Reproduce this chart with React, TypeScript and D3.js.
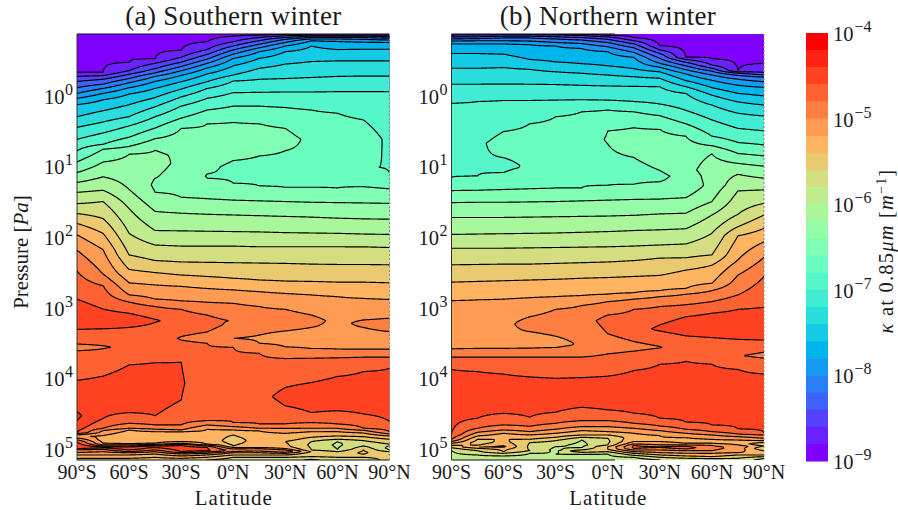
import React from 'react';
import * as d3 from 'd3';

// A profile is a list of [log10 pressure in Pa, level number]. Level n means
// log10(kappa) = -9 + n / 5, read off where the contour lines cross each latitude.
type Profile = [number, number][];

const latitudes = [-90, -75, -60, -45, -30, -15, 0, 15, 30, 45, 60, 75, 90];
const latTicks = [-90, -60, -30, 0, 30, 60, 90];
const latLabels = ['90°S', '60°S', '30°S', '0°N', '30°N', '60°N', '90°N'];
const pressureExponents = [0, 1, 2, 3, 4, 5];
const kappaExponents = [-4, -5, -6, -7, -8, -9];
const pressureDomain = [-0.87, 5.156];
const bandCount = 25;

const south90S: Profile = [[-0.87,0.6],[-0.33,1],[-0.27,2],[-0.2,3],[-0.11,4],[-0.03,5],[0.04,6],[0.13,7],[0.3,8],[0.45,9],[0.62,10],[0.78,11],[0.94,12],[1.09,13],[1.23,14],[1.37,15],[1.53,16],[1.67,17],[1.81,18],[1.97,19],[2.19,20],[2.48,21],[2.88,22],[3.08,22.6],[3.31,22],[3.515,21],[3.56,20.7],[3.61,21],[4.03,22],[4.47,23],[4.53,23.2],[4.6,23],[4.77,22],[4.78,21],[4.8,20],[4.82,19],[4.845,20],[4.87,21],[4.9,22],[4.96,23],[4.995,22],[5.01,21],[5.05,20],[5.085,19],[5.13,18],[5.156,18]];
const south75S: Profile = [[-0.87,0.6],[-0.33,1],[-0.28,2],[-0.23,3],[-0.16,4],[-0.1,5],[-0.03,6],[0.06,7],[0.215,8],[0.375,9],[0.53,10],[0.69,11],[0.76,12],[0.94,13],[1.15,14],[1.34,15],[1.5,16],[1.74,17],[1.95,18],[2.18,19],[2.525,20],[2.69,21],[3.02,22],[3.16,22.6],[3.3,22],[3.54,21],[3.56,20.85],[3.58,21],[3.97,22],[4.28,22.6],[4.57,22],[4.708,21],[4.74,20],[4.81,19],[4.864,18.5],[4.92,19],[4.943,20],[4.958,21],[4.976,22.5],[5.005,21],[5.038,20],[5.085,19],[5.132,18],[5.156,17.5]];
const south60S: Profile = [[-0.87,0.6],[-0.47,1],[-0.35,2],[-0.3,3],[-0.24,4],[-0.18,5],[-0.11,6],[-0.02,7],[0.13,8],[0.3,9],[0.43,10],[0.59,11],[0.72,12],[0.83,13],[1.27,13.85],[1.33,14],[1.6,15],[1.95,16],[2.255,17],[2.46,18],[2.65,19],[2.82,20],[2.92,21],[3.08,22],[3.185,22.6],[3.28,22],[3.55,21.3],[3.81,22],[4.165,22.7],[4.486,22],[4.637,21],[4.708,20],[4.731,19],[4.826,18],[4.873,18.3],[4.925,19],[4.943,20],[4.958,21],[4.972,22],[4.995,22.6],[5.014,22],[5.038,21],[5.052,20],[5.085,19],[5.132,18],[5.156,17.5]];
const south45S: Profile = [[-0.87,0.6],[-0.52,1],[-0.455,2],[-0.38,3],[-0.32,4],[-0.27,5],[-0.2,6],[-0.1,7],[0.03,8],[0.16,9],[0.3,10],[0.46,11],[0.61,12],[0.775,13],[0.96,13.4],[1.17,13],[1.265,12.85],[1.37,13],[1.64,14],[1.91,15],[2.115,16],[2.335,17],[2.505,18],[2.68,19],[2.88,20],[2.985,21],[3.165,22],[3.185,22.1],[3.21,22],[3.43,21.3],[3.78,22],[4.165,22.7],[4.53,22],[4.66,21],[4.722,20],[4.755,19],[4.826,18],[4.859,18.5],[4.92,19],[4.934,20],[4.948,21],[4.958,22],[4.967,23],[4.981,22],[5.014,21],[5.038,20],[5.071,19],[5.118,18],[5.156,17.5]];
const south30S: Profile = [[-0.87,0.6],[-0.64,1],[-0.54,2],[-0.47,3],[-0.41,4],[-0.35,5],[-0.285,6],[-0.195,7],[-0.09,8],[0.02,9],[0.15,10],[0.32,11],[0.465,12],[0.84,12.85],[1.1,12.6],[1.44,13],[1.665,14],[1.915,15],[2.13,16],[2.355,17],[2.54,18],[2.7,19],[2.905,20],[3.025,21],[3.19,21.6],[3.41,21],[3.435,20.95],[3.46,21],[3.77,22],[4.07,22.1],[4.307,22],[4.543,21.5],[4.66,21],[4.731,20],[4.755,19],[4.835,18.7],[4.896,19],[4.92,20],[4.934,21],[4.948,22],[4.99,22.6],[5.038,22],[5.052,21],[5.071,20],[5.099,19],[5.132,18],[5.156,17.5]];
const south15S: Profile = [[-0.87,0.6],[-0.76,1],[-0.65,2],[-0.58,3],[-0.515,4],[-0.455,5],[-0.39,6],[-0.305,7],[-0.195,8],[-0.1,9],[0.04,10],[0.205,11],[0.4,12],[0.77,12.5],[1.11,12],[1.14,11.95],[1.17,12],[1.46,13],[1.68,14],[1.92,15],[2.13,16],[2.36,17],[2.56,18],[2.73,19],[2.925,20],[3.105,21],[3.245,21.4],[3.345,21],[3.435,20.7],[3.505,21],[4.07,21.4],[4.6,21],[4.66,20],[4.722,19],[4.802,18.5],[4.896,18.7],[4.934,19],[4.943,20],[4.958,21],[4.977,22],[5.024,22.2],[5.042,21],[5.061,20],[5.085,19],[5.118,18],[5.156,17]];
const south0: Profile = [[-0.87,0.6],[-0.84,1],[-0.76,2],[-0.7,3],[-0.645,4],[-0.585,5],[-0.525,6],[-0.42,7],[-0.29,8],[-0.205,9],[-0.04,10],[0.15,11],[0.38,12],[0.675,12.5],[0.92,12],[1.01,11.85],[1.24,12],[1.48,13],[1.69,14],[1.925,15],[2.13,16],[2.365,17],[2.585,18],[2.75,19],[2.94,20],[3.185,20.95],[3.435,20],[3.56,21],[4.07,21.4],[4.628,21],[4.684,20],[4.731,19],[4.802,18],[4.882,17.5],[4.958,18],[4.981,19],[5,20],[5.014,20.5],[5.038,20],[5.052,19],[5.085,18],[5.118,17],[5.156,16.5]];
const south15N: Profile = [[-0.87,0.6],[-0.855,1],[-0.82,2],[-0.775,3],[-0.725,4],[-0.675,5],[-0.62,6],[-0.525,7],[-0.385,8],[-0.23,9],[-0.045,10],[0.15,11],[0.4,12],[0.63,12.5],[0.855,12],[1.05,11.8],[1.28,12],[1.49,13],[1.7,14],[1.93,15],[2.14,16],[2.37,17],[2.61,18],[2.775,19],[2.985,20],[3.175,20.4],[3.39,20],[3.435,19.9],[3.505,20],[3.645,21],[4.26,21.7],[4.646,21],[4.708,20],[4.745,19],[4.849,18.5],[4.92,18.5],[4.981,19],[4.995,20],[5.014,21],[5.028,20],[5.052,19],[5.085,18],[5.118,17],[5.156,16.5]];
const south30N: Profile = [[-0.87,0.6],[-0.865,1],[-0.845,2],[-0.82,3],[-0.795,4],[-0.75,5],[-0.7,6],[-0.62,7],[-0.445,8],[-0.24,9],[-0.05,10],[0.17,11],[0.465,12],[0.62,12.3],[0.78,12],[1.05,11.75],[1.3,12],[1.5,13],[1.71,14],[1.94,15],[2.14,16],[2.375,17],[2.625,18],[2.8,19],[3.025,20],[3.185,20.5],[3.33,20],[3.435,19.7],[3.555,20],[3.72,21],[4.13,22],[4.26,22.3],[4.39,22],[4.646,21],[4.708,20],[4.778,19],[4.863,18.5],[4.896,18],[4.967,18.3],[4.995,19],[5.014,20],[5.028,21],[5.047,20],[5.061,19],[5.085,18],[5.118,17],[5.156,16.5]];
const south45N: Profile = [[-0.87,1],[-0.855,2],[-0.84,3],[-0.82,4],[-0.8,5],[-0.775,6],[-0.7,7],[-0.48,8],[-0.255,9],[-0.05,10],[0.205,11],[0.62,11.8],[1.3,12],[1.51,13],[1.72,14],[1.945,15],[2.14,16],[2.385,17],[2.63,18],[2.82,19],[3.105,20],[3.185,20.3],[3.28,20],[3.435,19.6],[3.58,20],[3.715,21],[4.06,22],[4.26,22.6],[4.485,22],[4.628,21],[4.708,20],[4.755,19],[4.835,18],[4.896,17],[4.943,16.8],[5.014,17],[5.038,18],[5.061,17.5],[5.109,17],[5.146,16],[5.156,15.8]];
const south60N: Profile = [[-0.87,1],[-0.855,2],[-0.84,3],[-0.82,4],[-0.8,5],[-0.765,6],[-0.65,7],[-0.49,8],[-0.27,9],[-0.055,10],[0.25,11],[0.62,11.6],[1.31,12],[1.515,13],[1.735,14],[1.95,15],[2.14,16],[2.39,17],[2.64,18],[2.845,19],[3.185,19.75],[3.59,20],[3.71,21],[3.975,22],[4.26,22.7],[4.46,22],[4.646,21],[4.708,20],[4.755,19],[4.816,18],[4.863,17],[4.896,16],[4.943,15.8],[5.005,16],[5.038,17],[5.061,17.5],[5.085,17.6],[5.118,17],[5.156,16.5]];
const south75N: Profile = [[-0.87,1],[-0.855,2],[-0.84,3],[-0.82,4],[-0.795,5],[-0.755,6],[-0.655,7],[-0.49,8],[-0.275,9],[-0.055,10],[0.345,11],[0.62,11.5],[1.015,11.05],[1.29,12],[1.52,13],[1.745,14],[1.96,15],[2.14,16],[2.39,17],[2.64,18],[2.87,19],[3.175,20],[3.22,20.2],[3.28,20],[3.435,19.7],[3.59,20],[3.7,21],[3.905,22],[4.26,22.7],[4.505,22],[4.708,21],[4.736,20],[4.774,19],[4.826,18],[4.882,17],[4.92,16.5],[4.958,17],[4.99,17.6],[5.014,18],[5.052,18.2],[5.075,18],[5.118,17],[5.156,16.5]];
const south90N: Profile = [[-0.87,1],[-0.855,2],[-0.83,3],[-0.81,4],[-0.785,5],[-0.75,6],[-0.655,7],[-0.49,8],[-0.275,9],[-0.055,10],[0.62,10.8],[1.09,11],[1.32,12],[1.525,13],[1.75,14],[1.965,15],[2.15,16],[2.395,17],[2.65,18],[2.885,19],[3.15,20],[3.245,20.3],[3.34,20],[3.455,19.7],[3.59,20],[3.7,21],[3.86,22],[4.26,22.7],[4.61,22],[4.755,21],[4.788,20],[4.816,19],[4.863,18],[4.896,17.5],[4.93,17],[4.953,16],[4.985,15.7],[5.014,16],[5.038,17],[5.156,17.3]];

const north90S: Profile = [[-0.87,1],[-0.855,2],[-0.83,3],[-0.8,4],[-0.77,5],[-0.73,6],[-0.595,7],[-0.385,8],[-0.16,9],[0.11,10],[0.63,10.8],[1.16,11],[1.345,12],[1.515,13],[1.725,14],[1.965,15],[2.16,16],[2.395,17],[2.64,18],[2.9,19],[3.585,20],[3.7,21],[3.875,22],[4.21,22.7],[4.788,22],[4.863,21],[4.896,20],[4.92,19],[4.948,18],[4.981,17],[5.024,16],[5.156,15.5]];
const north75S: Profile = [[-0.87,1],[-0.86,2],[-0.83,3],[-0.805,4],[-0.775,5],[-0.73,6],[-0.595,7],[-0.385,8],[-0.16,9],[0.085,10],[0.675,10.85],[1.14,11],[1.34,12],[1.51,13],[1.725,14],[1.96,15],[2.16,16],[2.39,17],[2.63,18],[2.89,19],[3.58,20],[3.7,21],[3.905,22],[4.21,22.8],[4.566,22],[4.708,21],[4.764,20],[4.816,19],[4.863,18],[4.91,17.5],[4.948,18],[4.972,19],[4.99,18],[5.024,17],[5.061,16.5],[5.085,16],[5.156,15.5]];
const north60S: Profile = [[-0.87,1],[-0.86,2],[-0.84,3],[-0.815,4],[-0.775,5],[-0.73,6],[-0.585,7],[-0.395,8],[-0.16,9],[0.07,10],[0.51,11],[0.675,11.3],[0.88,11],[0.99,10.8],[1.09,11],[1.33,12],[1.51,13],[1.725,14],[1.955,15],[2.16,16],[2.385,17],[2.62,18],[2.88,19],[3.185,19.7],[3.58,20],[3.7,21],[3.94,22],[4.26,22.7],[4.496,22],[4.66,21],[4.731,20],[4.778,19],[4.863,18],[4.896,18.2],[4.967,19.2],[5.005,18.2],[5.038,18],[5.061,17],[5.099,16],[5.156,15.5]];
const north45S: Profile = [[-0.87,1],[-0.86,2],[-0.84,3],[-0.815,4],[-0.77,5],[-0.72,6],[-0.51,7],[-0.37,8],[-0.16,9],[0.07,10],[0.4,11],[0.725,11.3],[1.02,11.1],[1.195,11.6],[1.32,12],[1.505,13],[1.72,14],[1.95,15],[2.155,16],[2.385,17],[2.61,18],[2.86,19],[3.13,20],[3.23,20.35],[3.34,20],[3.46,19.6],[3.575,20],[3.7,21],[3.98,22],[4.26,22.7],[4.55,22],[4.68,21],[4.755,20],[4.802,19],[4.863,18],[4.91,17],[4.967,16.8],[5.024,17],[5.061,16],[5.156,15.5]];
const north30S: Profile = [[-0.87,1],[-0.86,2],[-0.83,3],[-0.8,4],[-0.75,5],[-0.7,6],[-0.475,7],[-0.335,8],[-0.155,9],[0.065,10],[0.3,11],[0.725,11.5],[1.31,12],[1.5,13],[1.715,14],[1.945,15],[2.15,16],[2.375,17],[2.6,18],[2.845,19],[3.025,20],[3.22,20.5],[3.405,20],[3.505,19.7],[3.565,20],[3.7,21],[4,22],[4.26,22.7],[4.48,22],[4.637,21],[4.722,20],[4.778,19],[4.835,18],[4.882,17],[4.967,16],[5.014,15.7],[5.071,16],[5.156,15.5]];
const north15S: Profile = [[-0.87,0.8],[-0.865,1],[-0.85,2],[-0.82,3],[-0.785,4],[-0.735,5],[-0.665,6],[-0.45,7],[-0.315,8],[-0.145,9],[0.06,10],[0.23,11],[0.62,11.7],[1.31,12],[1.49,13],[1.71,14],[1.935,15],[2.145,16],[2.365,17],[2.585,18],[2.83,19],[2.97,20],[3.185,20.6],[3.53,20.1],[3.7,21],[3.99,22],[4.26,22.7],[4.41,22],[4.6,21],[4.684,20],[4.74,19],[4.802,18],[4.835,17],[4.873,16],[4.943,15.7],[4.981,16],[5.014,17],[5.028,18],[5.047,17],[5.076,16],[5.156,15.5]];
const north0: Profile = [[-0.87,0.6],[-0.85,1],[-0.83,2],[-0.795,3],[-0.75,4],[-0.69,5],[-0.62,6],[-0.42,7],[-0.29,8],[-0.135,9],[0.065,10],[0.205,11],[0.5,12],[0.62,12.05],[0.685,12],[1.01,11.8],[1.27,12],[1.48,13],[1.705,14],[1.925,15],[2.14,16],[2.355,17],[2.575,18],[2.81,19],[2.915,20],[3.105,21],[3.185,21.33],[3.37,21],[3.53,20.5],[3.655,21],[3.97,22],[4.26,22.7],[4.447,22],[4.6,21],[4.684,20],[4.755,19],[4.802,18],[4.849,17],[4.896,16.8],[4.943,17],[4.967,18],[5.005,18],[5.038,17],[5.071,16],[5.156,15.5]];
const north15N: Profile = [[-0.87,0.6],[-0.82,1],[-0.775,2],[-0.73,3],[-0.675,4],[-0.61,5],[-0.54,6],[-0.38,7],[-0.265,8],[-0.13,9],[0.085,10],[0.23,11],[0.455,12],[0.655,12.4],[0.875,12],[1.055,11.7],[1.255,12],[1.47,13],[1.695,14],[1.91,15],[2.13,16],[2.335,17],[2.56,18],[2.79,19],[2.88,20],[3.025,21],[3.305,21.6],[3.48,21],[3.55,20.7],[3.615,21],[3.89,22],[4.26,22.7],[4.495,22],[4.637,21],[4.708,20],[4.778,19],[4.835,18.5],[4.896,19],[4.93,20],[4.948,21],[4.972,21.2],[4.995,21],[5.014,20],[5.038,19],[5.061,18],[5.09,17],[5.118,16],[5.156,15.5]];
const north30N: Profile = [[-0.87,0.3],[-0.705,1],[-0.645,2],[-0.595,3],[-0.525,4],[-0.455,5],[-0.4,6],[-0.335,7],[-0.245,8],[-0.125,9],[0.12,10],[0.285,11],[0.48,12],[0.77,12.6],[1.06,12],[1.14,11.75],[1.22,12],[1.465,13],[1.675,14],[1.9,15],[2.115,16],[2.3,17],[2.545,18],[2.76,19],[2.845,20],[2.985,21],[3.245,22],[3.305,22.2],[3.33,22],[3.55,21],[3.56,20.97],[3.57,21],[3.8,22],[4.26,22.7],[4.566,22],[4.675,21],[4.741,20],[4.811,19],[4.873,18.9],[4.896,19],[4.92,19.4],[4.943,20],[4.967,21],[4.981,21],[5.014,20],[5.052,19],[5.085,18],[5.118,17],[5.156,16]];
const north45N: Profile = [[-0.87,0.5],[-0.54,1],[-0.51,2],[-0.47,3],[-0.42,4],[-0.365,5],[-0.305,6],[-0.21,7],[-0.125,8],[-0.03,9],[0.21,10],[0.4,11],[0.575,12],[0.82,12.5],[1.055,12.65],[1.14,12.4],[1.29,12.35],[1.445,13],[1.665,14],[1.885,15],[2.1,16],[2.295,17],[2.47,18],[2.73,19],[2.81,20],[2.96,21],[3.13,22],[3.27,22.6],[3.4,22],[3.56,21.3],[3.76,22],[4.26,22.7],[4.62,22],[4.722,21],[4.778,20],[4.84,19],[4.882,18.7],[4.92,19],[4.943,20],[4.962,21],[4.981,21.5],[5,21],[5.024,20],[5.061,19],[5.099,18],[5.132,17],[5.156,16]];
const north60N: Profile = [[-0.87,0.5],[-0.52,1],[-0.43,2],[-0.385,3],[-0.345,4],[-0.29,5],[-0.215,6],[-0.11,7],[-0.005,8],[0.135,9],[0.345,10],[0.575,11],[0.71,12],[0.825,13],[1.055,13.5],[1.265,13.3],[1.5,14],[1.69,15],[1.95,16],[2.255,17],[2.4,18],[2.655,19],[2.76,20],[2.915,21],[3.08,22],[3.245,22.8],[3.425,22],[3.6,21.3],[3.8,22],[4.26,22.7],[4.66,22],[4.755,21],[4.802,20],[4.863,19],[4.896,18.8],[4.92,19],[4.948,20],[4.99,20.3],[5.024,20],[5.061,19],[5.109,18],[5.137,17],[5.156,16.5]];
const north75N: Profile = [[-0.87,0.5],[-0.35,1],[-0.335,2],[-0.315,3],[-0.285,4],[-0.23,5],[-0.145,6],[-0.03,7],[0.09,8],[0.25,9],[0.465,10],[0.665,11],[0.82,12],[0.96,13],[1.115,14],[1.35,15],[1.68,16],[1.855,17],[1.985,18],[2.325,19],[2.54,20],[2.82,21],[3.025,22],[3.245,22.8],[3.45,22],[3.68,21.05],[3.875,22],[4.26,22.7],[4.716,22],[4.788,21],[4.826,20],[4.873,19],[4.91,18.5],[4.943,19],[4.967,19.8],[5.014,19.5],[5.052,19],[5.085,18],[5.132,17],[5.156,16.5]];
const north90N: Profile = [[-0.87,0.5],[-0.455,1],[-0.325,2],[-0.29,3],[-0.26,4],[-0.195,5],[-0.115,6],[0.005,7],[0.135,8],[0.29,9],[0.5,10],[0.7,11],[0.855,12],[1,13],[1.17,14],[1.335,15],[1.525,16],[1.69,17],[1.88,18],[2.07,19],[2.29,20],[2.56,21],[2.995,22],[3.245,22.8],[3.46,22],[3.63,21],[3.68,20.8],[3.715,21],[3.94,22],[4.26,22.7],[4.77,22],[4.802,21],[4.849,20],[4.882,19],[4.91,18],[4.93,17],[4.958,18],[4.99,17],[5.024,18],[5.061,19],[5.109,17],[5.132,16],[5.156,15.7]];

const southWinter = [south90S, south75S, south60S, south45S, south30S, south15S, south0, south15N, south30N, south45N, south60N, south75N, south90N];
const northWinter = [north90S, north75S, north60S, north45S, north30S, north15S, north0, north15N, north30N, north45N, north60N, north75N, north90N];

// matplotlib's "rainbow" colormap, one colour per band
const rainbow = (t: number) =>
  d3.rgb(
    255 * Math.abs(2 * t - 0.5),
    255 * Math.sin(Math.PI * t),
    255 * Math.cos((Math.PI * t) / 2)
  ).formatRgb();
const bandColor = (band: number) => rainbow(band / (bandCount - 1));

const serif = '"Liberation Serif", "DejaVu Serif", serif';
const plotTop = 34;
const plotBottom = 460;
const PAD = 3; // extra grid cells so the contour outlines fall outside the clip

const Power = ({ x, y, exp }: { x: number; y: number; exp: number }) => (
  <text x={x} y={y} fontSize={20.5}>
    10
    <tspan dx={exp < 0 ? 1 : 0.5} dy={-9} fontSize={16}>{String(exp).replace('-', '−')}</tspan>
  </text>
);

const Panel = ({ id, profiles, x0, x1, title, fullFrame }: any) => {
  const xScale = d3.scaleLinear().domain([-90, 90]).range([x0, x1]);
  const yScale = d3.scaleLinear().domain(pressureDomain).range([plotTop, plotBottom]);

  const nx = Math.round(x1 - x0) + 2 * PAD;
  const ny = (plotBottom - plotTop) * 2 + 2 * PAD;
  const colToLat = d3.scaleLinear().domain([PAD + 0.5, nx - PAD - 0.5]).range([-90, 90]);
  const rowToP = d3.scaleLinear().domain([PAD + 0.5, ny - PAD - 0.5]).range(pressureDomain);

  const columns = profiles.map((prof: Profile) =>
    d3.scaleLinear().domain(prof.map((d) => d[0])).range(prof.map((d) => d[1])).clamp(true)
  );

  const values = new Float64Array(nx * ny);
  for (let j = 0; j < ny; j++) {
    const p = rowToP(j + 0.5);
    const atRow = columns.map((c: any) => c(p));
    const acrossLat = d3.scaleLinear().domain(latitudes).range(atRow).clamp(true);
    for (let i = 0; i < nx; i++) {
      values[j * nx + i] = acrossLat(colToLat(i + 0.5));
    }
  }

  const levels = d3.range(1, bandCount);
  const contours = d3.contours().size([nx, ny]).thresholds(levels)(values as any);
  const path = d3.geoPath(
    d3.geoTransform({
      point(gx: number, gy: number) {
        (this as any).stream.point(xScale(colToLat(gx)), yScale(rowToP(gy)));
      },
    })
  );

  const frameEnd = fullFrame ? x1 : 615;

  return (
    <g>
      <clipPath id={id}>
        <rect x={x0} y={plotTop} width={x1 - x0} height={plotBottom - plotTop} />
      </clipPath>
      <g clipPath={`url(#${id})`}>
        <rect x={x0} y={plotTop} width={x1 - x0} height={plotBottom - plotTop} fill={bandColor(0)} />
        {contours.map((c: any) =>
          c.coordinates.length ? <path key={c.value} d={path(c) as string} fill={bandColor(c.value)} /> : null
        )}
        {contours.map((c: any) =>
          c.coordinates.length ? (
            <path key={c.value} d={path(c) as string} fill="none" stroke="#000" strokeWidth={1.15} />
          ) : null
        )}
      </g>
      <line x1={x0} x2={frameEnd} y1={plotTop} y2={plotTop} stroke="#111" strokeWidth={1.2} />
      <line x1={x0} x2={frameEnd} y1={plotBottom} y2={plotBottom} stroke="#111" strokeWidth={1.2} />
      <line x1={x0} x2={x0} y1={plotTop} y2={plotBottom} stroke="#333" strokeWidth={1} />
      <line x1={x1} x2={x1} y1={plotTop} y2={plotBottom} stroke="#888" strokeWidth={1} strokeDasharray="2 2" />

      <text x={(x0 + x1) / 2} y={25} fontSize={27} textAnchor="middle" textLength={216} lengthAdjust="spacing">
        {title}
      </text>
      {latTicks.map((t, i) => (
        <text key={t} x={xScale(t)} y={479} fontSize={20} textAnchor="middle">
          {latLabels[i]}
        </text>
      ))}
      <text x={(x0 + x1) / 2} y={505} fontSize={21} textAnchor="middle" textLength={77} lengthAdjust="spacing">
        Latitude
      </text>
      {pressureExponents.map((e) => (
        <Power key={e} x={x0 - 33} y={yScale(e) + 8} exp={e} />
      ))}
    </g>
  );
};

const App = () => {
  const barScale = d3.scaleBand<number>().domain(d3.range(bandCount - 1, -1, -1)).range([33, 461]);
  const kappaScale = d3.scaleLinear().domain([-4, -9]).range([33, 461]);

  return (
    <svg
      width={898}
      height={510}
      fontFamily={serif}
      fill="#1a1a1a"
      style={{ position: 'absolute', left: 0, top: 0, background: '#fff' }}
    >
      <Panel id="clip-a" profiles={southWinter} x0={77} x1={389.5} title="(a) Southern winter" fullFrame />
      <Panel id="clip-b" profiles={northWinter} x0={451.5} x1={764} title="(b) Northern winter" />

      <text transform="translate(28,252) rotate(-90)" fontSize={21} textAnchor="middle">
        Pressure [<tspan fontStyle="italic">Pa</tspan>]
      </text>

      {barScale.domain().map((b) => (
        <rect key={b} x={806} y={barScale(b)} width={22} height={barScale.bandwidth() + 0.5} fill={bandColor(b)} />
      ))}
      {kappaExponents.map((e) => (
        <Power key={e} x={833} y={kappaScale(e) + 8} exp={e} />
      ))}
      <text transform="translate(893,251) rotate(-90)" fontSize={20.5} letterSpacing={1.2} textAnchor="middle">
        <tspan fontStyle="italic">κ</tspan> at 0.85<tspan fontStyle="italic">μm</tspan> [<tspan fontStyle="italic">m</tspan>
        <tspan dy={-7} fontSize={14}>−1</tspan>
        <tspan dy={7}>]</tspan>
      </text>
    </svg>
  );
};

export default App;
